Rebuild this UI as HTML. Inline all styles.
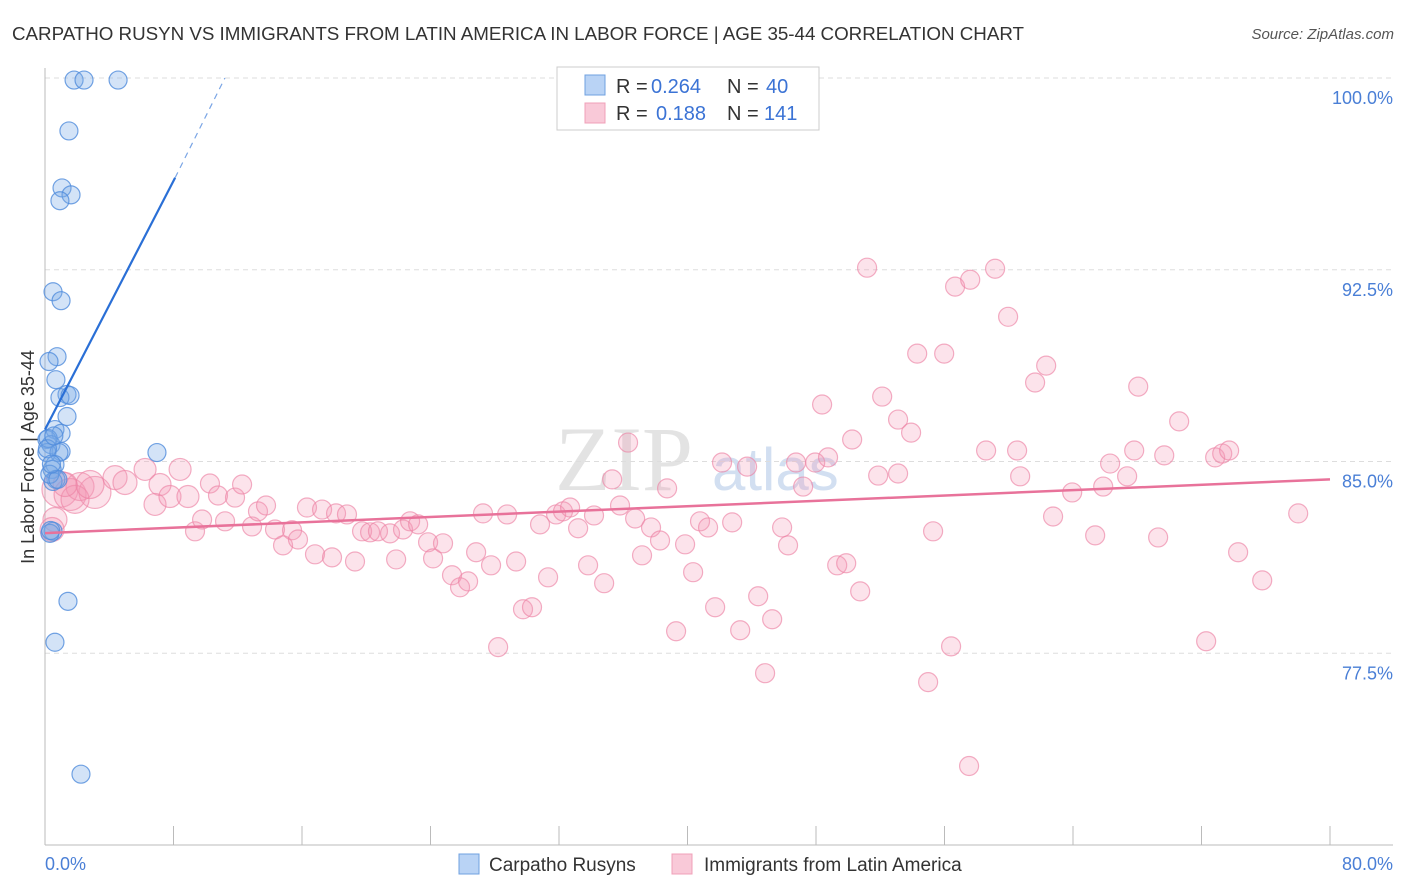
<!DOCTYPE html>
<html><head><meta charset="utf-8"><style>
body{margin:0;background:#fff;font-family:"Liberation Sans",sans-serif;}
#wrap{position:relative;width:1406px;height:892px;overflow:hidden;}
</style></head><body>
<div id="wrap">
<svg id="chart" width="1406" height="892" xmlns="http://www.w3.org/2000/svg">
<text x="12" y="40" font-size="18.8" fill="#333" textLength="1012">CARPATHO RUSYN VS IMMIGRANTS FROM LATIN AMERICA IN LABOR FORCE | AGE 35-44 CORRELATION CHART</text>
<text x="1394" y="39" font-size="15" fill="#555" font-style="italic" text-anchor="end">Source: ZipAtlas.com</text>
<text x="0" y="0" transform="translate(34,457) rotate(-90)" font-size="18" fill="#333" text-anchor="middle">In Labor Force | Age 35-44</text>
<g><text x="555" y="490" font-size="92" font-family="Liberation Serif,serif" fill="#ddd" opacity="0.8">ZIP</text><text x="712" y="490" font-size="60" fill="#c8d8ee" opacity="0.8">atlas</text></g>
<g id="grid"></g><g id="axes"></g><g id="pink"></g><g id="blue"></g><g id="trends"></g>
<g>
<rect x="557" y="67" width="262" height="63" fill="#fff" stroke="#ccc"/>
<rect x="585" y="75" width="20" height="20" fill="#b9d3f5" stroke="#6fa0e0"/>
<rect x="585" y="103" width="20" height="20" fill="#f9c9d8" stroke="#f0a0b8"/>
<text x="616" y="93" font-size="20" fill="#333">R =</text><text x="651" y="93" font-size="20" fill="#3b73d5">0.264</text>
<text x="727" y="93" font-size="20" fill="#333">N =</text><text x="766" y="93" font-size="20" fill="#3b73d5">40</text>
<text x="616" y="120" font-size="20" fill="#333">R =</text><text x="656" y="120" font-size="20" fill="#3b73d5">0.188</text>
<text x="727" y="120" font-size="20" fill="#333">N =</text><text x="764" y="120" font-size="20" fill="#3b73d5">141</text>
</g>
<g>
<rect x="459" y="854" width="20" height="20" fill="#b9d3f5" stroke="#6fa0e0"/>
<text x="489" y="871" font-size="19" fill="#333">Carpatho Rusyns</text>
<rect x="672" y="854" width="20" height="20" fill="#f9c9d8" stroke="#f0a0b8"/>
<text x="704" y="871" font-size="19" fill="#333">Immigrants from Latin America</text>
</g>
</svg>
</div>
<script>
const yTicks=[100,92.5,85,77.5];
const yTickLabels=["100.0%","92.5%","85.0%","77.5%"];
const xTickVals=[0,8,16,24,32,40,48,56,64,72,80];
const blueX=[1.81,2.43,4.55,1.49,1.06,1.62,0.93,0.50,1.0,0.75,0.25,0.68,1.37,0.93,1.56,1.37,0.62,1.0,0.12,0.37,1.0,0.12,0.87,6.97,0.62,0.44,0.68,0.5,0.5,0.31,1.43,0.62,2.24,0.2,0.3,0.8,0.15,0.55,0.4,0.35];
const blueY=[99.92,99.92,99.92,97.93,95.7,95.43,95.2,91.64,91.29,89.1,88.91,88.2,87.62,87.5,87.58,86.76,86.25,86.1,85.86,85.66,85.39,85.35,85.35,85.35,84.88,84.69,84.3,84.22,82.27,82.19,79.53,77.93,72.77,85.9,84.5,84.3,85.5,86.0,84.9,82.3];
const pinkX=[0.93,1.56,2.18,3.11,1.87,0.62,0.44,1.25,2.80,4.36,4.98,6.23,7.16,8.41,6.85,7.78,8.90,9.34,9.78,10.27,10.77,11.21,11.83,12.27,12.89,13.26,13.76,14.32,14.82,15.38,15.75,16.31,16.81,17.25,17.87,18.12,18.80,19.30,19.74,20.24,20.73,21.48,21.86,22.29,22.73,23.23,23.85,24.16,24.78,25.34,25.84,26.34,26.84,27.27,27.77,28.21,28.77,29.33,29.76,30.32,30.82,31.32,31.82,32.25,32.69,33.19,33.81,34.18,34.81,35.31,35.80,36.30,36.74,37.17,37.73,38.29,38.73,39.29,39.85,40.35,40.78,41.28,41.72,42.15,42.78,43.28,43.71,44.40,44.83,45.27,45.89,46.26,46.76,47.20,47.95,48.38,48.75,49.32,49.88,50.25,50.75,51.18,51.87,52.12,53.11,53.11,53.92,54.30,54.98,55.29,55.98,56.41,56.66,57.53,57.60,58.59,59.15,59.96,60.52,60.71,61.64,62.33,62.76,63.95,65.38,65.88,66.31,67.37,67.81,68.06,69.30,69.68,70.61,72.29,72.85,73.29,73.72,74.28,75.78,78.02];
const pinkY=[83.91,83.71,84.02,83.79,83.52,82.73,82.34,84.10,84.10,84.37,84.18,84.69,84.10,84.69,83.32,83.63,83.63,82.27,82.73,84.14,83.67,82.66,83.59,84.10,82.46,83.05,83.28,82.34,81.72,82.31,81.95,83.20,81.37,83.12,81.25,82.97,82.93,81.09,82.27,82.23,82.27,82.19,81.17,82.34,82.66,82.54,81.84,81.21,81.80,80.55,80.08,80.31,81.45,82.97,80.94,77.74,82.93,81.09,79.22,79.30,82.54,80.47,82.93,83.05,83.20,82.39,80.94,82.89,80.24,84.30,83.28,85.74,82.77,81.33,82.42,81.91,83.95,78.36,81.76,80.67,82.66,82.42,79.30,84.96,82.62,78.40,84.80,79.73,76.72,78.83,82.42,81.72,84.96,84.02,84.96,87.23,85.16,80.94,81.02,85.86,79.92,92.58,84.45,87.54,86.64,84.53,86.13,89.22,76.37,82.27,89.22,77.77,91.84,73.09,92.11,85.43,92.54,90.66,85.43,84.42,88.09,88.75,82.85,83.79,82.11,84.02,84.92,84.42,85.43,87.93,82.03,85.24,86.57,77.97,85.16,85.31,85.43,81.45,80.35,82.97];
const pinkR=[18,16,14,16,14,12,12,12,14,12,12,11,11,11,11,11,11];
const blueTrend=[[0,86.25],[8.1,96.1]];
const blueDash=[[8.1,96.1],[11.2,100]];
const pinkTrend=[[0,82.2],[80,84.3]];
const X0=45,X1=1330,YT=78,YB=845;
const sx=v=>X0+(v/80)*(X1-X0);
const sy=v=>YT+(100-v)/30*(YB-YT);
const NS="http://www.w3.org/2000/svg";
function mk(t,a,p){const e=document.createElementNS(NS,t);for(const k in a)e.setAttribute(k,a[k]);p.appendChild(e);return e;}
const grid=document.getElementById('grid'),axes=document.getElementById('axes');
yTicks.forEach((v,i)=>{
 const l=mk('line',{x1:X0,x2:1393,y1:sy(v),y2:sy(v),stroke:'#ddd','stroke-dasharray':'5,4'},grid);
 
 
 const t=mk('text',{x:1393,y:sy(v)+26,'font-size':18,fill:'#4a7fd6','text-anchor':'end'},axes);
 t.textContent=yTickLabels[i];
 
 
});
const ax=mk('line',{x1:X0,x2:X0,y1:68,y2:YB,stroke:'#bbb'},axes);


const bx=mk('line',{x1:X0,x2:1393,y1:YB,y2:YB,stroke:'#bbb'},axes);


xTickVals.forEach(v=>{const l=mk('line',{x1:sx(v),x2:sx(v),y1:826,y2:YB,stroke:'#bbb'},axes);
 
 });
[[0,"0.0%",'start',45],[80,"80.0%",'end',1393]].forEach(d=>{const t=mk('text',{x:d[3],y:870,'font-size':18,fill:'#4a7fd6','text-anchor':d[2]},axes);t.textContent=d[1];
 
 });
const pg=document.getElementById('pink');
pinkX.forEach((x,i)=>{const c=mk('circle',{cx:sx(x),cy:sy(pinkY[i]),r:pinkR[i]||9.5,fill:'rgba(244,150,180,0.27)',stroke:'rgba(236,130,165,0.65)','stroke-width':1.2},pg);
 
 });
const bg=document.getElementById('blue');
blueX.forEach((x,i)=>{const c=mk('circle',{cx:sx(x),cy:sy(blueY[i]),r:9,fill:'rgba(120,170,230,0.33)',stroke:'rgba(80,140,220,0.8)','stroke-width':1.2},bg);
 
 });
const tg=document.getElementById('trends');
const a=mk('line',{x1:sx(blueTrend[0][0]),y1:sy(blueTrend[0][1]),x2:sx(blueTrend[1][0]),y2:sy(blueTrend[1][1]),stroke:'#2a6fd6','stroke-width':2.2},tg);


const b=mk('line',{x1:sx(blueDash[0][0]),y1:sy(blueDash[0][1]),x2:sx(blueDash[1][0]),y2:sy(blueDash[1][1]),stroke:'#7aa5e5','stroke-width':1.2,'stroke-dasharray':'6,5'},tg);


const p=mk('line',{x1:sx(pinkTrend[0][0]),y1:sy(pinkTrend[0][1]),x2:sx(pinkTrend[1][0]),y2:sy(pinkTrend[1][1]),stroke:'#e8729a','stroke-width':2.5},tg);


</script>
</body></html>
